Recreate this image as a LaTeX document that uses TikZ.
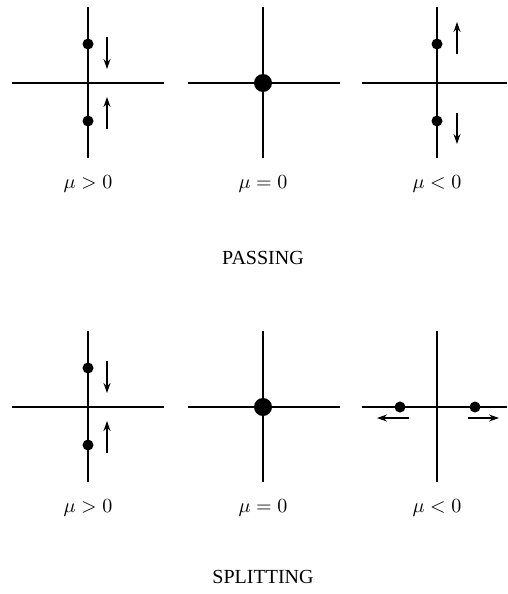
\documentclass[tikz,border=0pt]{standalone}
\usepackage{amsmath,amssymb}
\usepackage{fontspec}
\setmainfont{Liberation Serif}
\usepackage{tikz}
\usetikzlibrary{arrows.meta, positioning}

\begin{document}
\begin{tikzpicture}[x=0.5pt, y=-0.5pt,
        axis/.style={line width=1pt},
        pt/.style={circle, fill, inner sep=0pt, minimum size=5.5pt},
        bigpt/.style={circle, fill, inner sep=0pt, minimum size=9pt},
        flow/.style={line width=0.75pt, -{Stealth[length=5pt, width=3.5pt]}},
        lbl/.style={inner sep=0pt},
        ttl/.style={inner sep=0pt}]

        \useasboundingbox (0,0) rectangle (508,594);

        % passing, mu > 0
        \draw[axis] (88,7) -- (88,158);
        \draw[axis] (12,83) -- (164,83);
        \node[pt] (a1) at (88,44) {};
        \node[pt] (a2) at (88,121) {};
        \coordinate (a3) at (107,37);
        \coordinate (a4) at (107,69);
        \coordinate (a5) at (107,129);
        \coordinate (a6) at (107,97);
        \draw[flow] (a3) -- (a4);
        \draw[flow] (a5) -- (a6);
        \node[lbl] (la) at (88,184) {$\mu>0$};

        % passing, mu = 0
        \draw[axis] (263,7) -- (263,158);
        \draw[axis] (188,83) -- (340,83);
        \node[bigpt] (b1) at (263,83) {};
        \node[lbl] (lb) at (263,184) {$\mu=0$};

        % passing, mu < 0
        \draw[axis] (437,7) -- (437,158);
        \draw[axis] (362,83) -- (507,83);
        \node[pt] (c1) at (437,44) {};
        \node[pt] (c2) at (437,121) {};
        \coordinate (c3) at (457,54);
        \coordinate (c4) at (457,22);
        \coordinate (c5) at (457,113);
        \coordinate (c6) at (457,144);
        \draw[flow] (c3) -- (c4);
        \draw[flow] (c5) -- (c6);
        \node[lbl] (lc) at (437,184) {$\mu<0$};

        \node[ttl] (pass) at (263,258) {PASSING};

        % splitting, mu > 0
        \draw[axis] (88,331) -- (88,482);
        \draw[axis] (12,407) -- (164,407);
        \node[pt] (d1) at (88,368) {};
        \node[pt] (d2) at (88,445) {};
        \coordinate (d3) at (107,361);
        \coordinate (d4) at (107,393);
        \coordinate (d5) at (107,453);
        \coordinate (d6) at (107,421);
        \draw[flow] (d3) -- (d4);
        \draw[flow] (d5) -- (d6);
        \node[lbl] (ld) at (88,508) {$\mu>0$};

        % splitting, mu = 0
        \draw[axis] (263,331) -- (263,482);
        \draw[axis] (188,407) -- (340,407);
        \node[bigpt] (e1) at (263,407) {};
        \node[lbl] (le) at (263,508) {$\mu=0$};

        % splitting, mu < 0
        \draw[axis] (437,331) -- (437,482);
        \draw[axis] (362,407) -- (507,407);
        \node[pt] (f1) at (400,407) {};
        \node[pt] (f2) at (475,407) {};
        \coordinate (f3) at (409,418);
        \coordinate (f4) at (377,418);
        \coordinate (f5) at (468,418);
        \coordinate (f6) at (499,418);
        \draw[flow] (f3) -- (f4);
        \draw[flow] (f5) -- (f6);
        \node[lbl] (lf) at (437,508) {$\mu<0$};

        \node[ttl] (split) at (263,577) {SPLITTING};
    \end{tikzpicture}
\end{document}
